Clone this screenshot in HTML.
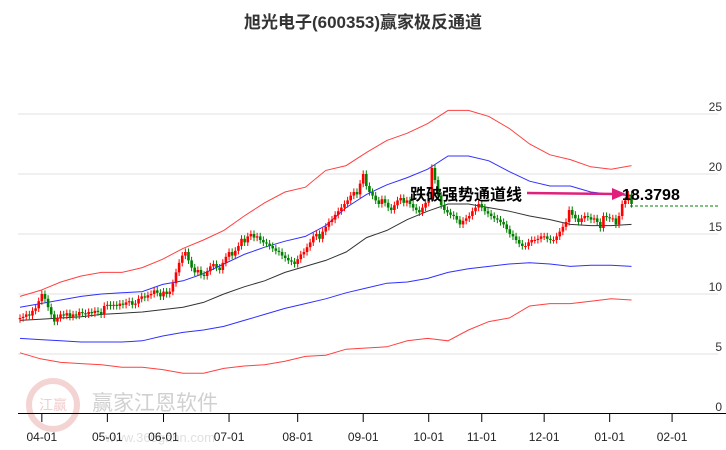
<!DOCTYPE html>
<html><head><meta charset="utf-8"><style>
body{margin:0;background:#fff;}
svg{display:block;font-family:"Liberation Sans","Noto Sans CJK SC",sans-serif;}
</style></head><body>
<svg id="c" width="726" height="450">
<text x="363" y="28" text-anchor="middle" font-size="17" font-weight="bold" fill="#333">旭光电子(600353)赢家极反通道</text>
<g opacity="0.45">
<circle cx="53" cy="405" r="24" fill="none" stroke="#e8a0a0" stroke-width="6"/>
<text x="53" y="410" text-anchor="middle" font-size="14" fill="#e09090">江赢</text>
<text x="155" y="410" text-anchor="middle" font-size="21" fill="#999">赢家江恩软件</text>
<text x="160" y="442" text-anchor="middle" font-size="13" fill="#bbb">www.360gann.com</text>
</g>
<g id="grid"></g><g id="bands"></g><g id="candles"></g><g id="axes"></g>
<line x1="630" y1="206" x2="718" y2="206" stroke="#008000" stroke-dasharray="3,2"/>
<line x1="527" y1="193" x2="615" y2="194" stroke="#e0207a" stroke-width="2.5"/>
<polygon points="612,188 626,194 612,200" fill="#e0207a"/>
<text x="410" y="200" font-size="16" font-weight="bold" fill="#000">跌破强势通道线</text>
<text x="622" y="200" font-size="16" font-weight="bold" fill="#000">18.3798</text>
</svg>
<script>
const closes=[8.0,8.1,8.3,8.2,8.6,8.8,9.4,10.0,9.6,8.9,
8.3,7.7,8.0,8.3,8.2,8.4,8.1,8.3,8.2,8.5,
8.4,8.3,8.5,8.4,8.6,8.5,8.3,9.0,9.1,9.0,
9.1,9.0,9.2,9.1,9.3,9.4,9.1,9.2,9.6,9.8,
9.7,9.9,10.0,10.3,10.1,9.8,10.2,10.0,10.2,10.9,
11.8,12.6,13.2,13.5,12.8,12.2,11.8,12.0,11.6,11.5,
11.9,12.3,12.5,12.2,12.0,12.6,13.1,13.5,13.2,13.6,
14.0,14.6,14.3,14.8,15.0,14.7,14.8,14.5,14.3,14.2,
14.0,13.8,13.6,13.5,13.2,13.0,12.8,12.7,12.5,12.9,
13.3,13.5,13.9,14.3,14.8,15.0,14.6,15.2,15.6,16.0,
16.2,16.6,16.9,17.2,17.5,17.8,18.2,18.5,18.3,19.2,
20.0,19.0,18.5,18.2,17.8,17.5,17.9,17.6,17.2,17.0,
17.4,17.8,18.0,17.6,17.8,17.5,17.2,17.0,16.8,17.2,
17.6,18.0,20.5,19.5,18.2,17.4,17.0,16.8,16.6,16.5,
16.2,15.8,16.1,16.3,16.5,16.9,17.2,17.5,17.2,16.9,
16.7,16.5,16.3,16.2,16.0,15.8,15.4,15.0,14.8,14.5,
14.2,14.0,14.0,14.3,14.5,14.5,14.6,14.8,14.8,14.6,
14.5,14.5,14.8,15.2,15.6,16.0,17.0,16.6,16.3,16.0,
16.3,16.5,16.4,16.2,16.3,16.0,15.5,16.5,16.4,16.3,
16.3,15.8,16.5,17.5,17.8,18.3,17.5];
const redUpper=[9.8,10.3,11,11.5,11.8,11.8,12.2,12.9,13.8,14.5,15.3,16.5,17.6,18.5,18.9,20.3,20.7,21.8,22.8,23.4,24.2,25.3,25.3,24.8,23.8,22.5,21.6,21.2,20.6,20.4,20.7];
const blueUpper=[8.9,9.2,9.5,9.8,10,10.1,10.2,10.8,11.1,11.7,12.5,13.3,13.9,14.4,14.8,15.7,17.2,18.3,19.1,19.7,20.4,21.5,21.5,21.1,20.2,19.4,19,19,18.5,18.3,18.2];
const midLine=[7.8,7.9,8,8.1,8.3,8.4,8.5,8.7,8.9,9.3,10,10.6,11.1,11.8,12.3,12.8,13.5,14.7,15.3,16.2,16.9,17.5,17.5,17.2,16.9,16.5,16.2,15.8,15.7,15.7,15.8];
const blueLower=[6.3,6.2,6.1,6.0,6.0,6.0,6.1,6.5,6.8,7.0,7.3,7.8,8.3,8.8,9.2,9.6,10.1,10.5,10.9,11.0,11.3,11.8,12.1,12.3,12.5,12.6,12.5,12.3,12.4,12.4,12.3];
const redLower=[5.1,4.6,4.3,4.2,4.1,3.9,3.9,3.7,3.4,3.4,3.8,4.0,4.1,4.4,4.8,4.9,5.4,5.5,5.6,6.1,6.3,6.1,7.0,7.7,8.0,9.0,9.2,9.2,9.4,9.6,9.5];
const yTicks=[0,5,10,15,20,25];
const xLabels=["04-01","05-01","06-01","07-01","08-01","09-01","10-01","11-01","12-01","01-01","02-01"];
const xLabelIdx=[7,28,46,67,89,110,131,148,168,189,209];
const NS='http://www.w3.org/2000/svg';
const X=i=>20+i*3.12, Y=v=>414-12*v;
function mk(t,a,p){const e=document.createElementNS(NS,t);for(const k in a)e.setAttribute(k,a[k]);p.appendChild(e);return e;}
const grid=document.getElementById('grid'),axes=document.getElementById('axes');
yTicks.forEach(v=>{
 if(v>0){const l=mk('line',{x1:18,x2:718,y1:Y(v),y2:Y(v),stroke:'#e0e0e0'},grid);
 
 }
 const t=mk('text',{x:722,y:Y(v)-3,'text-anchor':'end','font-size':12,fill:'#333'},axes);t.textContent=v;
 
 
});
const ax=mk('line',{x1:18,x2:726,y1:413.5,y2:413.5,stroke:'#000'},axes);


xLabels.forEach((s,k)=>{const x=X(xLabelIdx[k]);
 mk('line',{x1:x,x2:x,y1:414,y2:422,stroke:'#000'},axes);
 const t=mk('text',{x:x,y:441,'text-anchor':'middle','font-size':12,fill:'#222'},axes);t.textContent=s;
 
 
});
const bands=document.getElementById('bands');
[[redUpper,'#ff4040','red-upper-band'],[blueUpper,'#3030ff','blue-upper-band'],[midLine,'#333','middle-line'],[blueLower,'#3030ff','blue-lower-band'],[redLower,'#ff4040','red-lower-band']].forEach(([arr,col,nm])=>{
 const step=196/(arr.length-1);
 const p=mk('polyline',{points:arr.map((v,k)=>X(k*step)+','+Y(v)).join(' '),fill:'none',stroke:col,'stroke-width':1},bands);
 
 
});
const cg=document.getElementById('candles');
closes.forEach((c,i)=>{
 const o=i?closes[i-1]:c-0.1;
 const up=c>=o,col=up?'#ff0000':'#008000';
 const hi=Math.max(o,c)+0.3,lo=Math.min(o,c)-0.3,x=X(i);
 const g=mk('g',{},cg);
 
 
 mk('line',{x1:x,x2:x,y1:Y(hi),y2:Y(lo),stroke:col},g);
 mk('rect',{x:x-1.3,y:Y(Math.max(o,c)),width:2.6,height:Math.max(1,Math.abs(Y(o)-Y(c))),fill:col},g);
});
</script>
</body></html>
